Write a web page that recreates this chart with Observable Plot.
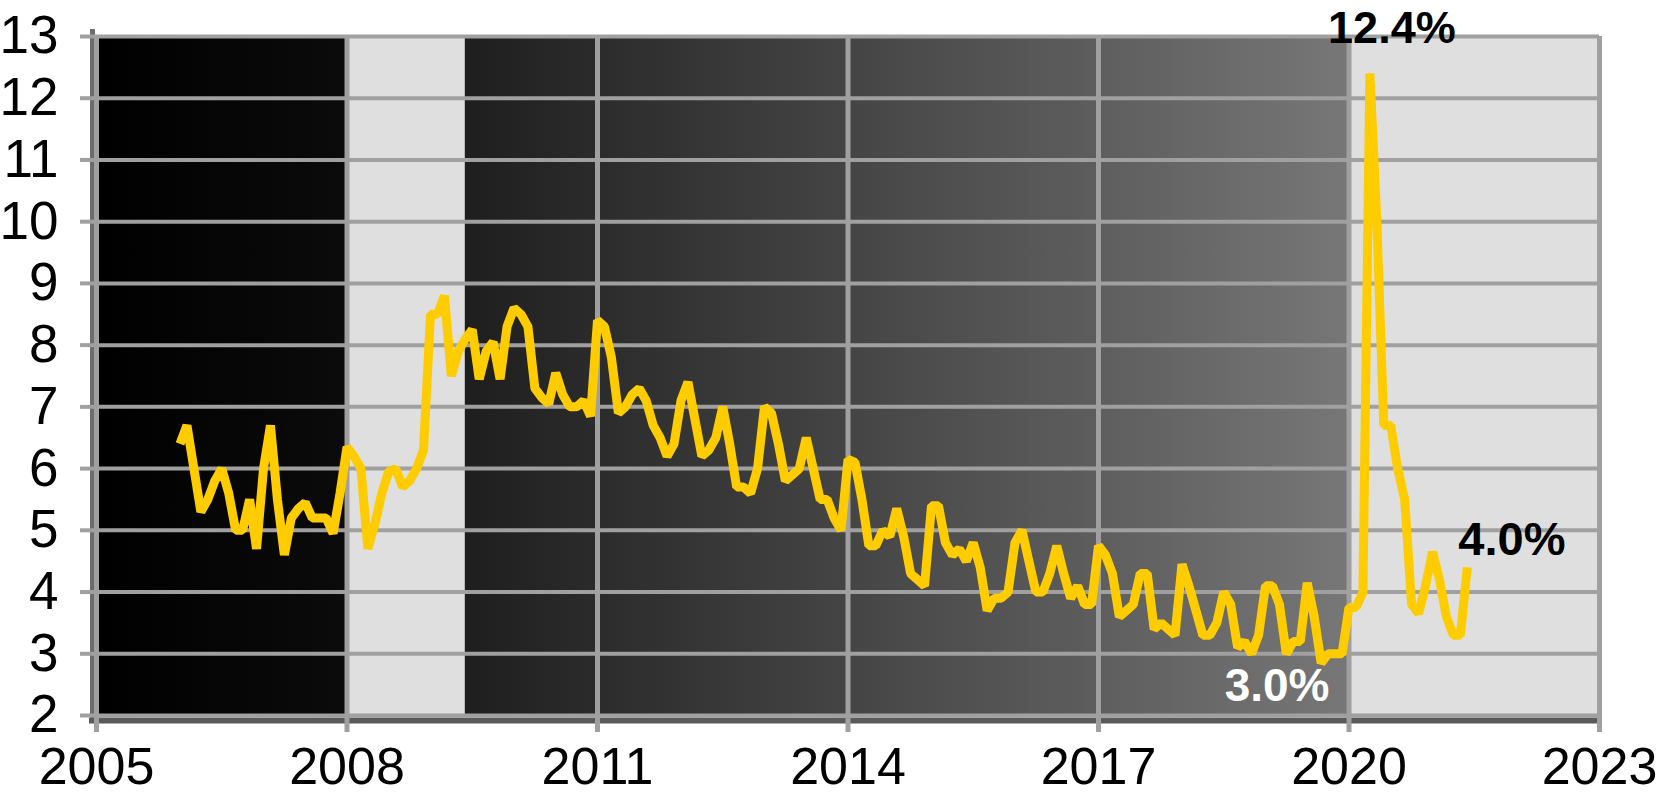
<!DOCTYPE html>
<html>
<head>
<meta charset="utf-8">
<script src="https://cdn.jsdelivr.net/npm/d3@7"></script>
<script src="https://cdn.jsdelivr.net/npm/@observablehq/plot@0.6"></script>
<style>
  html, body { margin: 0; padding: 0; background: #fff; }
  #chart svg { display: block; }
</style>
</head>
<body>
<div id="chart"></div>
<script>
// ---- data: monthly rate (%), January 2006 onwards ----
const startYear = 2006;
const rate2006 = [6.4, 6.7, 6.0, 5.3, 5.5, 5.8, 6.0, 5.6, 5.0, 5.0, 5.5, 4.7];
const rate2007 = [6.0, 6.7, 5.5, 4.6, 5.2, 5.35, 5.45, 5.2, 5.2, 5.2, 4.95, 5.6];
const rate2008 = [6.35, 6.2, 6.0, 4.7, 5.1, 5.6, 5.95, 6.0, 5.7, 5.8, 6.0, 6.3];
const rate2009 = [8.5, 8.5, 8.8, 7.5, 7.9, 8.1, 8.25, 7.45, 7.9, 8.05, 7.45, 8.3];
const rate2010 = [8.6, 8.5, 8.3, 7.3, 7.15, 7.05, 7.55, 7.2, 7.0, 7.0, 7.1, 6.85];
const rate2011 = [8.4, 8.3, 7.8, 6.9, 7.0, 7.2, 7.3, 7.1, 6.7, 6.5, 6.2, 6.4];
const rate2012 = [7.1, 7.4, 6.8, 6.2, 6.3, 6.5, 7.0, 6.4, 5.7, 5.7, 5.6, 6.0];
const rate2013 = [7.0, 6.9, 6.4, 5.8, 5.9, 6.0, 6.5, 6.0, 5.5, 5.5, 5.2, 5.0];
const rate2014 = [6.15, 6.1, 5.5, 4.75, 4.75, 5.0, 4.9, 5.35, 4.9, 4.3, 4.2, 4.1];
const rate2015 = [5.4, 5.4, 4.8, 4.6, 4.7, 4.5, 4.8, 4.4, 3.7, 3.9, 3.9, 4.0];
const rate2016 = [4.8, 5.0, 4.5, 4.0, 4.0, 4.3, 4.75, 4.3, 3.9, 4.1, 3.8, 3.8];
const rate2017 = [4.75, 4.6, 4.3, 3.6, 3.7, 3.8, 4.3, 4.3, 3.4, 3.5, 3.4, 3.3];
const rate2018 = [4.45, 4.1, 3.7, 3.3, 3.3, 3.5, 4.0, 3.8, 3.1, 3.2, 3.0, 3.3];
const rate2019 = [4.1, 4.1, 3.8, 3.0, 3.2, 3.2, 4.15, 3.6, 2.85, 3.0, 3.0, 3.0];
const rate2020 = [3.75, 3.75, 4.0, 12.4, 10.0, 6.7, 6.7, 6.0, 5.5, 3.8, 3.65, 4.1];
const rate2021 = [4.65, 4.2, 3.6, 3.3, 3.3, 4.4];

const rates = [
  ...rate2006, ...rate2007, ...rate2008, ...rate2009, ...rate2010, ...rate2011,
  ...rate2012, ...rate2013, ...rate2014, ...rate2015, ...rate2016, ...rate2017,
  ...rate2018, ...rate2019, ...rate2020, ...rate2021
];

// ---- axes ----
const xTicks = [2005, 2008, 2011, 2014, 2017, 2020, 2023];
const yTicks = [2, 3, 4, 5, 6, 7, 8, 9, 10, 11, 12, 13];

// ---- shaded (recession) periods ----
const recessionStart = [2008, 2020];
const recessionEnd = [2009 + 5 / 12, 2023];

// ---- background gradient stops (year, colour) ----
const gradYears = [2005, 2008, 2009 + 5 / 12, 2020];
const gradColors = ["#000000", "#0b0b0b", "#1e1e1e", "#777777"];

// ---- callouts ----
const noteLabels = ["12.4%", "3.0%", "4.0%"];
const noteDates = [2020 + 3 / 12, 2019 + 10 / 12, 2021 + 5 / 12];
const noteValues = [12.4, 3.0, 4.4];

// build tables
const series = rates.map((v, i) => ({date: startYear + i / 12, value: v}));
const recessions = recessionStart.map((s, i) => ({start: s, end: recessionEnd[i]}));
const notes = noteLabels.map((t, i) => ({label: t, date: noteDates[i], value: noteValues[i]}));

function gradientDefs(index, scales) {
  const x0 = scales.x(gradYears[0]);
  const x1 = scales.x(gradYears[gradYears.length - 1]);
  const defs = d3.create("svg:defs");
  const g = defs.append("linearGradient")
    .attr("id", "bgGrad")
    .attr("gradientUnits", "userSpaceOnUse")
    .attr("x1", x0).attr("x2", x1).attr("y1", 0).attr("y2", 0);
  gradYears.forEach((yr, i) => {
    g.append("stop")
      .attr("offset", (scales.x(yr) - x0) / (x1 - x0))
      .attr("stop-color", gradColors[i]);
  });
  return defs.node();
}

const FONT = "'Liberation Sans', Arial, Helvetica, sans-serif";

const chart = Plot.plot({
  width: 1659,
  height: 794,
  marginLeft: 96,
  marginRight: 60,
  marginTop: 36,
  marginBottom: 79,
  style: {fontFamily: FONT, background: "#fff", color: "#000"},
  x: {domain: [2005, 2023], label: null},
  y: {domain: [2, 13], label: null},
  marks: [
    gradientDefs,
    Plot.frame({fill: "url(#bgGrad)", stroke: "none"}),
    Plot.rect(recessions, {x1: "start", x2: "end", fill: "#dfdfdf"}),
    Plot.ruleX([2005], {stroke: "#6c6c6c", strokeWidth: 5, dx: -4, inset: -7}),
    Plot.ruleY([2], {stroke: "#5a5a5a", strokeWidth: 6, dy: 5, insetLeft: -7}),
    Plot.gridY(yTicks, {stroke: "#a0a0a0", strokeOpacity: 1, strokeWidth: 4}),
    Plot.gridX(xTicks, {stroke: "#a0a0a0", strokeOpacity: 1, strokeWidth: 5}),
    Plot.line(series, {
      x: "date", y: "value", stroke: "#ffcc00", strokeWidth: 9,
      strokeLinejoin: "miter", strokeLinecap: "butt"
    }),
    Plot.axisX(xTicks, {
      tickSize: 17, tickPadding: 15, stroke: "#a0a0a0", strokeWidth: 5,
      fill: "#000", fontSize: 52, tickFormat: (d) => String(d), label: null
    }),
    Plot.axisY(yTicks, {
      tickSize: 16, tickPadding: 22, stroke: "#a0a0a0", strokeWidth: 4,
      fill: "#000", fontSize: 53, tickFormat: (d) => String(d), label: null
    }),
    Plot.text(notes.filter((d) => d.label === "12.4%"), {
      x: "date", y: "value", text: "label", fill: "#000", fontSize: 45, fontWeight: "bold",
      textAnchor: "middle", lineAnchor: "bottom", dx: 22, dy: -31
    }),
    Plot.text(notes.filter((d) => d.label === "3.0%"), {
      x: "date", y: "value", text: "label", fill: "#fff", fontSize: 46, fontWeight: "bold",
      textAnchor: "middle", lineAnchor: "bottom", dx: -58, dy: 47
    }),
    Plot.text(notes.filter((d) => d.label === "4.0%"), {
      x: "date", y: "value", text: "label", fill: "#000", fontSize: 47, fontWeight: "bold",
      textAnchor: "start", lineAnchor: "bottom", dx: -9, dy: -12
    })
  ]
});

document.getElementById("chart").appendChild(chart);
</script>
</body>
</html>
